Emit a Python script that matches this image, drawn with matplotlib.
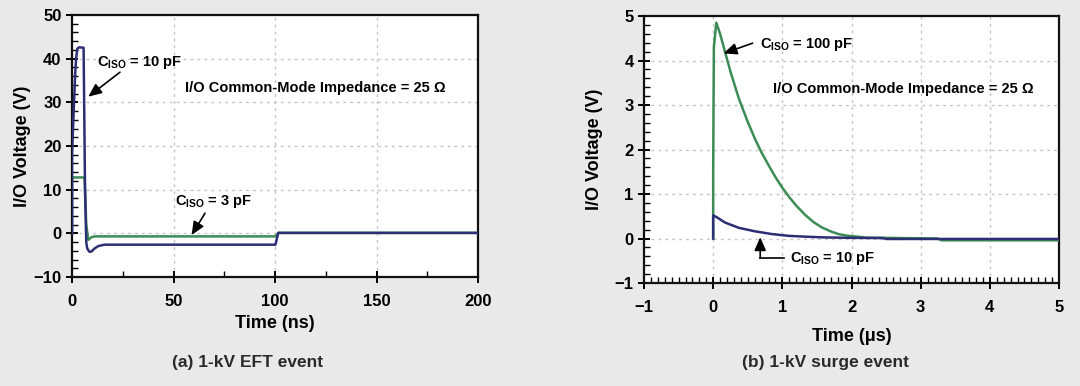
import matplotlib
matplotlib.use("Agg")
import matplotlib.pyplot as plt
from matplotlib.ticker import MultipleLocator
from matplotlib import font_manager

# ---------------- data ----------------
# (a) 1-kV EFT event, time in ns
eft_t_10pf = [0, 0, 0.3, 1.0, 1.5, 2.0, 2.6, 3.5, 5.7, 6.4, 7.0, 7.5, 8.5, 9.5, 11, 13, 16, 100.2, 101.6, 200]
eft_v_10pf = [0, 18, 22, 30, 36, 40, 42.3, 42.6, 42.5, 10, -2.0, -3.5, -4.2, -4.2, -3.5, -2.9, -2.6, -2.6, 0.1, 0.1]
eft_t_3pf = [0, 0, 5.5, 6.2, 7.0, 8.0, 9.5, 11, 100.2, 101.6, 200]
eft_v_3pf = [0, 12.8, 12.8, 12.6, 2.0, -1.5, -0.9, -0.7, -0.7, 0.1, 0.1]

# (b) 1-kV surge event, time in us
surge_t_100pf = [0, 0, 0.01, 0.045, 0.1, 0.17, 0.25, 0.37, 0.5, 0.61, 0.7, 0.8, 0.9, 1.0, 1.1,
                 1.2, 1.33, 1.45, 1.57, 1.7, 1.81, 1.95, 2.1, 2.2, 3.25, 3.3, 5.0]
surge_v_100pf = [0, 1.5, 4.3, 4.85, 4.6, 4.2, 3.75, 3.15, 2.62, 2.22, 1.93, 1.65, 1.38, 1.14, 0.93,
                 0.74, 0.53, 0.37, 0.25, 0.16, 0.1, 0.06, 0.04, 0.02, 0.0, -0.04, -0.04]
surge_t_10pf = [0, 0, 0.05, 0.17, 0.37, 0.61, 0.85, 1.09, 1.35, 1.6, 2.0, 2.46, 2.5, 5.0]
surge_v_10pf = [0, 0.52, 0.48, 0.36, 0.24, 0.16, 0.10, 0.06, 0.04, 0.025, 0.015, 0.01, -0.01, -0.01]

# ---------------- style ----------------
avail = {f.name for f in font_manager.fontManager.ttflist}
fam = ["Liberation Sans Narrow", "DejaVu Sans"] if "Liberation Sans Narrow" in avail else ["Liberation Sans", "DejaVu Sans"]
plt.rcParams["font.family"] = fam
plt.rcParams["font.weight"] = "bold"
plt.rcParams["mathtext.fontset"] = "custom"
plt.rcParams["mathtext.rm"] = fam[0] + ":bold"
plt.rcParams["mathtext.it"] = fam[0] + ":bold"
plt.rcParams["mathtext.bf"] = fam[0] + ":bold"

BG = "#e9e9e9"
BLUE = "#2c2f74"
GREEN = "#3b8c55"
GRID = "#c4c4c4"
ANN = 10.5

fig = plt.figure(figsize=(10.8, 3.86), dpi=100, facecolor=BG)
axA = fig.add_axes([0.0667, 0.2824, 0.3759, 0.6787])
axB = fig.add_axes([0.5963, 0.2668, 0.3843, 0.6917])


def style_axes(ax, xpad):
    ax.set_facecolor("white")
    for s in ax.spines.values():
        s.set_linewidth(1.6)
        s.set_color("#111111")
    ax.grid(True, which="major", color=GRID, linestyle=(0, (2, 3)), linewidth=1.0)
    ax.tick_params(which="major", direction="inout", length=9, width=1.4,
                   labelsize=12, top=False, right=False, pad=3)
    ax.tick_params(axis="x", which="major", pad=xpad)
    ax.tick_params(which="minor", direction="in", length=4, width=1.0)
    for lab in ax.get_xticklabels() + ax.get_yticklabels():
        lab.set_fontweight("bold")


# ---- panel (a)
axA.plot(eft_t_3pf, eft_v_3pf, color=GREEN, lw=1.8, zorder=3)
axA.plot(eft_t_10pf, eft_v_10pf, color=BLUE, lw=1.8, zorder=4)
axA.set_xlim(0, 200)
axA.set_ylim(-10, 50)
axA.xaxis.set_major_locator(MultipleLocator(50))
axA.xaxis.set_minor_locator(MultipleLocator(25))
axA.yaxis.set_major_locator(MultipleLocator(10))
axA.yaxis.set_minor_locator(MultipleLocator(2))
style_axes(axA, 8)
axA.set_xlabel("Time (ns)", fontsize=13, fontweight="bold", labelpad=4)
axA.set_ylabel("I/O Voltage (V)", fontsize=13, fontweight="bold", labelpad=2)

arrow = dict(arrowstyle="-|>,head_length=0.8,head_width=0.35", color="black", lw=1.2,
             shrinkA=0, shrinkB=0)
axA.text(12.3, 39.2, r"$\mathregular{C_{ISO}}$ = 10 pF", fontsize=ANN, fontweight="bold",
         ha="left", va="center")
axA.annotate("", xy=(8.0, 31.3), xytext=(23.6, 36.9), arrowprops=arrow)
axA.text(55.7, 33.2, "I/O Common-Mode Impedance = 25 Ω", fontsize=ANN, fontweight="bold",
         ha="left", va="center")
axA.text(50.7, 7.2, r"$\mathregular{C_{ISO}}$ = 3 pF", fontsize=ANN, fontweight="bold",
         ha="left", va="center")
axA.annotate("", xy=(58.9, -0.4), xytext=(65.5, 4.6), arrowprops=arrow)

# ---- panel (b)
axB.plot(surge_t_100pf, surge_v_100pf, color=GREEN, lw=1.8, zorder=3)
axB.plot(surge_t_10pf, surge_v_10pf, color=BLUE, lw=1.8, zorder=4)
axB.set_xlim(-1, 5)
axB.set_ylim(-1, 5)
axB.xaxis.set_major_locator(MultipleLocator(1))
axB.xaxis.set_minor_locator(MultipleLocator(0.1))
axB.yaxis.set_major_locator(MultipleLocator(1))
axB.yaxis.set_minor_locator(MultipleLocator(0.2))
style_axes(axB, 8)
axB.set_xlabel("Time (μs)", fontsize=13, fontweight="bold", labelpad=9)
axB.set_ylabel("I/O Voltage (V)", fontsize=13, fontweight="bold", labelpad=8)

axB.text(0.67, 4.35, r"$\mathregular{C_{ISO}}$ = 100 pF", fontsize=ANN, fontweight="bold",
         ha="left", va="center")
axB.annotate("", xy=(0.15, 4.16), xytext=(0.57, 4.39), arrowprops=arrow)
axB.text(0.87, 3.37, "I/O Common-Mode Impedance = 25 Ω", fontsize=ANN, fontweight="bold",
         ha="left", va="center")
axB.text(1.11, -0.445, r"$\mathregular{C_{ISO}}$ = 10 pF", fontsize=ANN, fontweight="bold",
         ha="left", va="center")
axB.plot([0.68, 1.03], [-0.445, -0.445], color="black", lw=1.2)
axB.annotate("", xy=(0.68, 0.03), xytext=(0.68, -0.445), arrowprops=arrow)

# captions
fig.text(248 / 1080, 1 - 362 / 386, "(a) 1-kV EFT event", fontsize=12.5, fontweight="bold",
         ha="center", va="center", color="#2a2a2a")
fig.text(825 / 1080, 1 - 363 / 386, "(b) 1-kV surge event", fontsize=12.5, fontweight="bold",
         ha="center", va="center", color="#2a2a2a")

fig.savefig("out.png", dpi=100, facecolor=BG)
